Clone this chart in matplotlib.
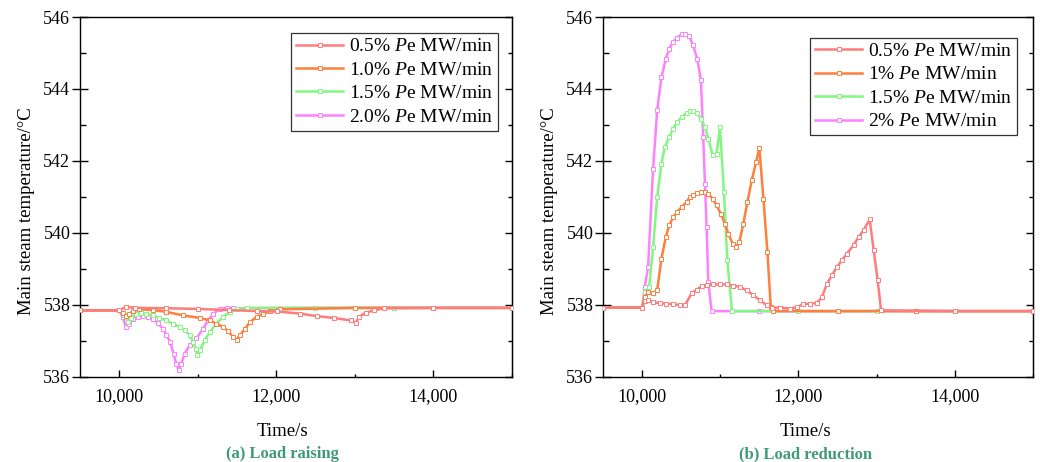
import matplotlib
matplotlib.use('Agg')
import matplotlib.pyplot as plt
from matplotlib.ticker import MultipleLocator, FuncFormatter

plt.rcParams['font.family'] = ['Liberation Serif', 'DejaVu Serif']
plt.rcParams['mathtext.fontset'] = 'custom'
plt.rcParams['mathtext.rm'] = 'Liberation Serif'
plt.rcParams['mathtext.it'] = 'Liberation Serif:italic'

# ---- (a) load raising ----
t_a_05 = [9500, 10000, 10085, 10200, 10600, 11000, 11400, 11750, 12008, 12308, 12521, 12735,
          12949, 13013, 13055, 13141, 13248, 13376, 14000, 15000]
T_a_05 = [537.85, 537.85, 537.95, 537.92, 537.91, 537.89, 537.86, 537.83, 537.82, 537.76, 537.69, 537.64,
          537.57, 537.51, 537.67, 537.79, 537.85, 537.91, 537.92, 537.92]

t_a_10 = [9500, 10000, 10043, 10085, 10128, 10171, 10256, 10427, 10598, 10812, 11026, 11154, 11239,
          11325, 11389, 11453, 11496, 11538, 11603, 11667, 11752, 11838, 11923, 12051, 13000, 14000, 15000]
T_a_10 = [537.85, 537.85, 537.79, 537.69, 537.76, 537.82, 537.88, 537.86, 537.81, 537.71, 537.64, 537.57, 537.48,
          537.39, 537.27, 537.11, 537.04, 537.16, 537.34, 537.53, 537.67, 537.76, 537.82, 537.88, 537.92, 537.92, 537.92]

t_a_15 = [9500, 10000, 10064, 10107, 10150, 10214, 10278, 10342, 10427, 10513, 10598, 10684, 10769, 10833,
          10897, 10940, 10974, 10996, 11026, 11090, 11154, 11239, 11325, 11410, 11496, 11624, 12500, 13500, 15000]
T_a_15 = [537.85, 537.85, 537.71, 537.53, 537.64, 537.76, 537.79, 537.76, 537.71, 537.64, 537.57, 537.48, 537.39, 537.30,
          537.16, 536.97, 536.79, 536.60, 536.74, 537.02, 537.25, 537.48, 537.67, 537.81, 537.88, 537.92, 537.92, 537.92, 537.92]

t_a_20 = [9500, 10000, 10043, 10085, 10128, 10171, 10235, 10299, 10363, 10427, 10491, 10555, 10598, 10650, 10692,
          10726, 10756, 10791, 10833, 10897, 10983, 11068, 11132, 11196, 11282, 11367, 11453, 12500, 13500, 15000]
T_a_20 = [537.85, 537.85, 537.67, 537.39, 537.48, 537.60, 537.67, 537.69, 537.67, 537.60, 537.51, 537.34, 537.18, 536.97, 536.65,
          536.37, 536.19, 536.37, 536.65, 536.88, 537.07, 537.34, 537.57, 537.76, 537.88, 537.92, 537.91, 537.92, 537.92, 537.92]

# ---- (b) load reduction ----
t_b_05 = [9500, 10000, 10035, 10077, 10141, 10227, 10312, 10398, 10483, 10547, 10633, 10697, 10761, 10825, 10911,
          10996, 11082, 11167, 11253, 11338, 11423, 11509, 11594, 11659, 11765, 11894, 11979, 12064, 12150, 12235,
          12300, 12364, 12428, 12492, 12556, 12620, 12705, 12769, 12834, 12911, 12962, 13013, 13056, 14000, 15000]
T_b_05 = [537.93, 537.93, 538.10, 538.13, 538.08, 538.05, 538.04, 538.02, 538.00, 537.99, 538.32, 538.43, 538.52, 538.55, 538.57,
          538.57, 538.57, 538.54, 538.50, 538.41, 538.27, 538.13, 537.99, 537.93, 537.93, 537.90, 537.94, 538.02, 538.04, 538.05,
          538.22, 538.59, 538.82, 539.06, 539.24, 539.43, 539.66, 539.89, 540.08, 540.38, 539.52, 538.69, 537.85, 537.83, 537.83]

t_b_10 = [9500, 10000, 10035, 10077, 10141, 10193, 10248, 10304, 10347, 10398, 10449, 10505, 10569, 10611, 10654,
          10705, 10753, 10804, 10847, 10902, 10953, 11005, 11060, 11103, 11159, 11201, 11244, 11295, 11347, 11402,
          11458, 11500, 11552, 11603, 11646, 11670, 12500, 13500, 15000]
T_b_10 = [537.93, 537.93, 538.22, 538.36, 538.32, 538.41, 539.29, 539.89, 540.21, 540.44, 540.58, 540.72, 540.86, 541.00, 541.05,
          541.11, 541.14, 541.14, 541.09, 540.95, 540.77, 540.54, 540.26, 539.98, 539.70, 539.61, 539.75, 540.26, 540.86, 541.46,
          541.97, 542.36, 540.95, 539.47, 537.94, 537.83, 537.83, 537.83, 537.83]

t_b_15 = [9500, 10000, 10035, 10090, 10141, 10193, 10248, 10291, 10347, 10398, 10449, 10505, 10569, 10611, 10654,
          10705, 10753, 10804, 10847, 10902, 10953, 10996, 11047, 11090, 11150, 12000, 13000, 14000, 15000]
T_b_15 = [537.93, 537.93, 538.36, 538.50, 539.61, 541.00, 541.93, 542.39, 542.67, 542.90, 543.08, 543.22, 543.33, 543.39, 543.39,
          543.32, 543.18, 542.94, 542.62, 542.16, 542.20, 542.94, 541.14, 539.24, 537.83, 537.83, 537.83, 537.83, 537.83]

t_b_20 = [9500, 10000, 10035, 10077, 10141, 10193, 10248, 10304, 10347, 10398, 10449, 10505, 10547, 10603, 10654,
          10705, 10753, 10782, 10804, 10825, 10847, 10889, 11500, 12500, 13500, 15000]
T_b_20 = [537.93, 537.93, 538.50, 539.06, 541.79, 543.41, 544.33, 544.84, 545.12, 545.31, 545.43, 545.52, 545.54, 545.46, 545.21,
          544.84, 544.24, 542.67, 541.37, 540.17, 538.64, 537.83, 537.83, 537.83, 537.83, 537.83]

colors = ['#ff7c7c', '#ff7f3c', '#80f880', '#ff80ff']
labels_a = ['0.5%', '1.0%', '1.5%', '2.0%']
labels_b = ['0.5%', '1%', '1.5%', '2%']
caption_color = '#3f9a78'

fig = plt.figure(figsize=(10.4, 4.62), dpi=100)
ax1 = fig.add_axes([0.0769, 0.184, 0.4151, 0.7792])
ax2 = fig.add_axes([0.5798, 0.184, 0.4135, 0.7792])


def draw(ax, series, labels, legend_anchor, caption):
    handles = []
    for i, ((t, T), lab) in enumerate(zip(series, labels)):
        h, = ax.plot(t, T, color=colors[i], lw=1.8, marker='s', ms=2.4, mfc='white',
                     mec=colors[i], mew=0.7, zorder=10 - i,
                     label=lab + ' $\\mathit{P}$e MW/min')
        handles.append(h)
    ax.set_xlim(9500, 15000)
    ax.set_ylim(536, 546)
    ax.xaxis.set_major_locator(MultipleLocator(2000))
    ax.xaxis.set_minor_locator(MultipleLocator(1000))
    ax.yaxis.set_major_locator(MultipleLocator(2))
    ax.yaxis.set_minor_locator(MultipleLocator(1))
    ax.xaxis.set_major_formatter(FuncFormatter(lambda v, p: f'{v:,.0f}'))
    ax.tick_params(axis='x', which='major', direction='in', length=5, width=1, labelsize=13, pad=8)
    ax.tick_params(axis='x', which='minor', direction='in', length=2.5, width=1)
    ax.tick_params(axis='y', which='major', direction='inout', length=12, width=1, labelsize=13, pad=1)
    ax.tick_params(axis='y', which='minor', direction='in', length=4, width=1)
    sec = ax.secondary_yaxis('right')
    sec.yaxis.set_major_locator(MultipleLocator(2))
    sec.yaxis.set_minor_locator(MultipleLocator(1))
    sec.tick_params(which='major', direction='in', length=5, width=1, labelright=False)
    sec.tick_params(which='minor', direction='in', length=3, width=1)
    for s in ax.spines.values():
        s.set_linewidth(1)
    ax.set_xlabel('Time/s', fontsize=13.5)
    ax.xaxis.set_label_coords(0.47, -0.128)
    ax.set_ylabel('Main steam temperature/°C', fontsize=13.5)
    ax.yaxis.set_label_coords(-0.105, 0.46)
    leg = ax.legend(handles=handles, loc='upper right', bbox_to_anchor=legend_anchor,
                    borderaxespad=0, fontsize=14, frameon=True, fancybox=False,
                    edgecolor='black', handlelength=2.4, handletextpad=0.3,
                    labelspacing=0.3, borderpad=0.25, markerscale=1.0)
    leg.get_frame().set_linewidth(0.9)
    leg.set_zorder(20)
    ax.text(0.47, -0.192, caption, transform=ax.transAxes, ha='center', va='top',
            fontsize=12, fontweight='bold', color=caption_color)


draw(ax1, [(t_a_05, T_a_05), (t_a_10, T_a_10), (t_a_15, T_a_15), (t_a_20, T_a_20)],
     labels_a, (0.968, 0.956), '(a) Load raising')
draw(ax2, [(t_b_05, T_b_05), (t_b_10, T_b_10), (t_b_15, T_b_15), (t_b_20, T_b_20)],
     labels_b, (0.962, 0.943), '(b) Load reduction')

fig.savefig('out.png', dpi=100)
